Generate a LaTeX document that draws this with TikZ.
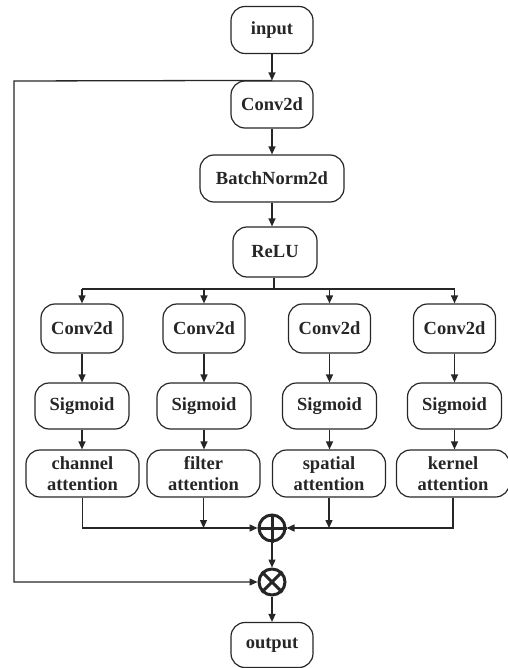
\documentclass[tikz,border=0pt]{standalone}
\usepackage{fontspec}
\setmainfont{Liberation Serif}
\usetikzlibrary{arrows.meta}
\begin{document}
\begin{tikzpicture}[x=1pt,y=-1pt,
  box/.style={draw=black!85,line width=1.2pt,rounded corners=14pt,minimum height=47pt,inner sep=0pt,
    font=\fontsize{18.5}{21}\selectfont\bfseries,text=black!85,align=center},
  arr/.style={draw=black!85,line width=1.3pt,-{Triangle[length=8pt,width=7pt]}},
  ln/.style={draw=black!85,line width=1.3pt},
  opc/.style={draw=black!85,line width=3pt,circle,minimum size=26pt,inner sep=0pt}]
\useasboundingbox (0,0) rectangle (507,668);
\node[box,minimum width=82pt] (in) at (272,30) {input};
\node[box,minimum width=82pt] (conv) at (272,104.5) {Conv2d};
\node[box,minimum width=144pt] (bn) at (272,178.5) {BatchNorm2d};
\node[box,minimum width=84pt,minimum height=50pt] (relu) at (275,252) {ReLU};
\foreach \i/\x in {1/82,2/204,3/329.5,4/454.5}{
  \node[box,minimum width=82pt,minimum height=49pt] (c\i) at (\x,328.5) {Conv2d};
  \node[box,minimum width=94pt,minimum height=46pt] (s\i) at (\x,406) {Sigmoid};
}
\node[box,minimum width=113pt] (a1) at (82.5,473.5) {channel\\attention};
\node[box,minimum width=113pt] (a2) at (203.5,473.5) {filter\\attention};
\node[box,minimum width=113pt] (a3) at (329,473.5) {spatial\\attention};
\node[box,minimum width=113pt] (a4) at (453,473.5) {kernel\\attention};
\node[opc] (plus) at (272,528) {};
\draw[draw=black!85,line width=3pt] (plus.north) -- (plus.south) (plus.west) -- (plus.east);
\node[opc] (times) at (272,582) {};
\draw[draw=black!85,line width=3pt] (times.north west) -- (times.south east) (times.north east) -- (times.south west);
\node[box,minimum width=82pt,minimum height=45pt] (out) at (272,645) {output};
\coordinate (br) at (274,289);
\coordinate (fb) at (14,81);
% main chain
\draw[arr] (in.south) -- (conv.north);
\draw[arr] (conv.south) -- (bn.north);
\draw[arr] (bn.south) -- (bn.south |- relu.north);
\draw[ln] (relu.south -| br) -- (br);
\draw[ln] (c1.north |- br) -- (c4.north |- br);
\foreach \i in {1,2,3,4}{
  \draw[arr] (c\i.north |- br) -- (c\i.north);
  \draw[arr] (c\i.south) -- (s\i.north);
  \draw[arr] (s\i.south) -- (s\i.south |- a\i.north);
}
\draw[arr] (a1.south) |- (plus.west);
\draw[arr] (a4.south) |- (plus.east);
\draw[arr] (a2.south) -- (a2.south |- plus);
\draw[arr] (a3.south) -- (a3.south |- plus);
\draw[arr] (plus.south) -- (times.north);
\draw[arr] (times.south) -- (out.north);
\draw[arr] (conv.north) -- (fb) |- (times.west);
\end{tikzpicture}
\end{document}
